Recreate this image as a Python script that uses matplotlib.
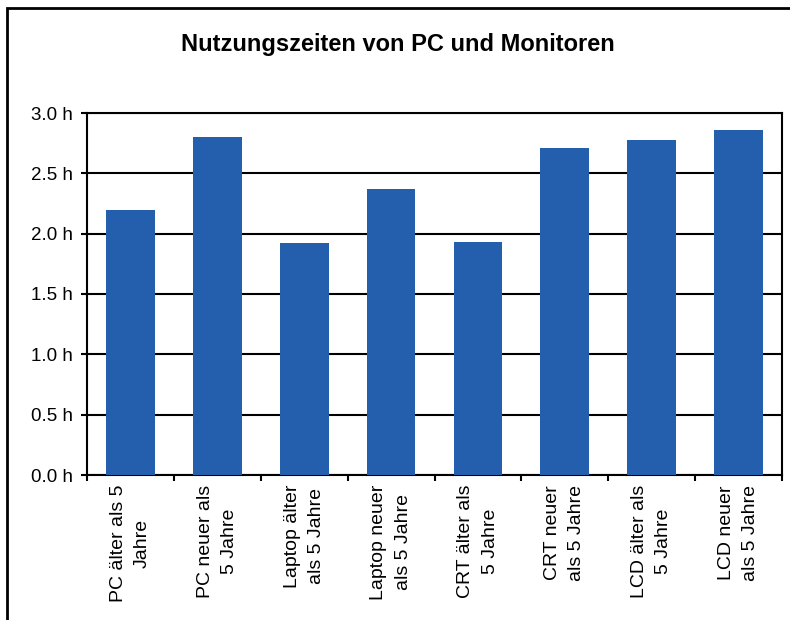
import matplotlib.pyplot as plt
from matplotlib.patches import Rectangle

# Data
categories = [
    "PC älter als 5\nJahre",
    "PC neuer als\n5 Jahre",
    "Laptop älter\nals 5 Jahre",
    "Laptop neuer\nals 5 Jahre",
    "CRT älter als\n5 Jahre",
    "CRT neuer\nals 5 Jahre",
    "LCD älter als\n5 Jahre",
    "LCD neuer\nals 5 Jahre",
]
hours = [2.20, 2.80, 1.92, 2.37, 1.93, 2.71, 2.78, 2.86]
y_ticks = [0.0, 0.5, 1.0, 1.5, 2.0, 2.5, 3.0]

plt.rcParams['font.family'] = ['Liberation Sans', 'DejaVu Sans']

fig = plt.figure(figsize=(7.9, 6.2), dpi=100)
ax = fig.add_axes([87 / 790, 1 - 475 / 620, 695 / 790, 362 / 620])

x = list(range(len(categories)))
ax.bar(x, hours, width=0.56, color='#235FAD', zorder=3)

# Format plot.
ax.set_xlim(-0.5, len(categories) - 0.5)
ax.set_ylim(0, 3.0)
ax.set_yticks(y_ticks)
ax.set_yticklabels([f"{v:.1f} h" for v in y_ticks], fontsize=13.5)
ax.yaxis.grid(True, color='black', linewidth=1.5, zorder=1)

ax.set_xticks(x)
ax.set_xticklabels(categories, rotation=90, fontsize=14, ha='center',
                   va='top', multialignment='center', linespacing=1.55)
ax.tick_params(axis='x', which='major', length=0, pad=7)
ax.set_xticks([i - 0.5 for i in range(len(categories) + 1)], minor=True)
ax.tick_params(axis='x', which='minor', length=4, width=1.5, direction='out')
ax.tick_params(axis='y', length=4, width=1.5, pad=6)

for spine in ax.spines.values():
    spine.set_linewidth(1.5)
    spine.set_color('black')

fig.text(398 / 790, 1 - 45 / 620, "Nutzungszeiten von PC und Monitoren",
         ha='center', va='center', fontsize=17, fontweight='bold')

# Outer chart frame (cut off at right and bottom)
fig.patches.append(Rectangle((7 / 790, -0.5), 2, 0.5 + 1 - 8 / 620,
                             transform=fig.transFigure, fill=False,
                             edgecolor='black', linewidth=2, clip_on=False))

fig.savefig('out.png', dpi=100)
